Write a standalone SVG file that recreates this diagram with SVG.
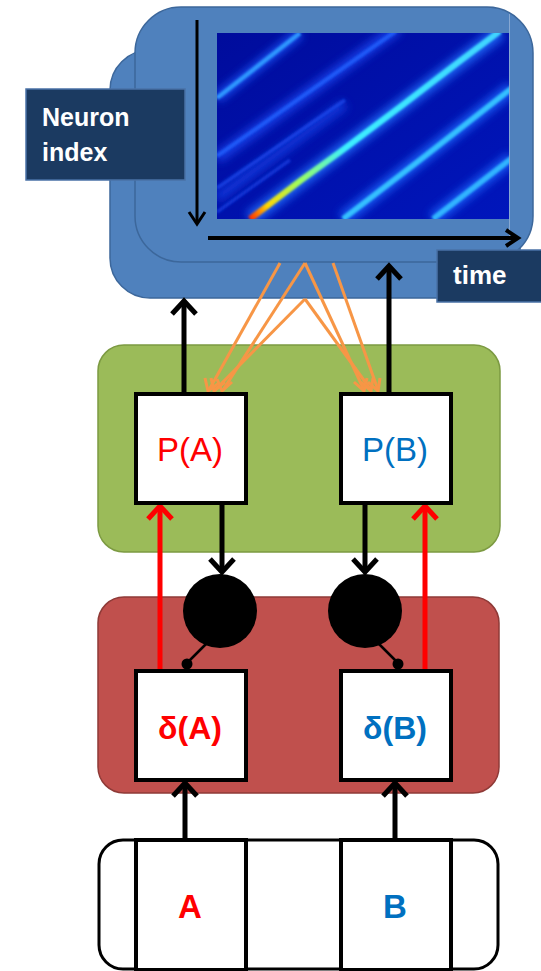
<svg xmlns="http://www.w3.org/2000/svg" width="541" height="971" viewBox="0 0 541 971">
  <style>
    .panel-blue { fill: #4f81bd; stroke: #3c679b; stroke-width: 1.5; }
    .label-box { fill: #1b3a61; stroke: #4a72a6; stroke-width: 1.5; }
    .label-text { font-family: "Liberation Sans", Arial, sans-serif; font-weight: bold; fill: #ffffff; }
    .node { fill: #ffffff; stroke: #000000; stroke-width: 4; }
    .p-text { font-family: "Liberation Sans", Arial, sans-serif; font-size: 33px; text-anchor: middle; }
    .d-text { font-family: "Liberation Sans", Arial, sans-serif; font-size: 32px; font-weight: bold; text-anchor: middle; }
    .in-text { font-family: "Liberation Sans", Arial, sans-serif; font-size: 33px; font-weight: bold; text-anchor: middle; }
    .red { fill: #ff0000; }
    .blue { fill: #0070c0; }
    .blk { stroke: #000000; stroke-width: 5; fill: none; stroke-linecap: butt; }
    .blkhead { stroke: #000000; stroke-width: 5; fill: none; stroke-linejoin: miter; }
    .redl { stroke: #ff0000; stroke-width: 5; fill: none; }
    .redhead { stroke: #ff0000; stroke-width: 5; fill: none; }
    .org { stroke: #f79646; stroke-width: 3; fill: none; }
    .orghead { stroke: #f79646; stroke-width: 3; fill: none; }
  </style>
  <defs>
    <clipPath id="mapClip">
      <rect x="217" y="33" width="292" height="186"/>
    </clipPath>
    <filter id="soft" x="-10%" y="-10%" width="120%" height="120%">
      <feGaussianBlur stdDeviation="1.3"/>
    </filter>
    <filter id="glow" x="-10%" y="-10%" width="120%" height="120%">
      <feGaussianBlur stdDeviation="4"/>
    </filter>
    <linearGradient id="hotStreak" gradientUnits="userSpaceOnUse" x1="250" y1="219" x2="500" y2="32">
      <stop offset="0" stop-color="#ff2a00"/>
      <stop offset="0.07" stop-color="#ffd800"/>
      <stop offset="0.2" stop-color="#9cff60"/>
      <stop offset="0.38" stop-color="#3cf0ff"/>
      <stop offset="1" stop-color="#40d4ff"/>
    </linearGradient>
    <linearGradient id="mapBg" x1="0" y1="0" x2="1" y2="1">
      <stop offset="0" stop-color="#000c9c"/>
      <stop offset="1" stop-color="#0016bc"/>
    </linearGradient>
  </defs>

  <!-- activity panel: stacked cards with raster plot -->
  <g id="activity-panel">
    <rect class="panel-blue" x="110" y="50" width="410" height="248" rx="40"/>
    <rect class="panel-blue" x="135" y="7" width="398" height="255" rx="46"/>
    <g id="raster">
      <rect x="217" y="33" width="292" height="186" fill="url(#mapBg)"/>
      <g clip-path="url(#mapClip)">
        <g filter="url(#glow)" opacity="0.8">
          <path d="M217,98 L300,33" stroke="#1a5cff" stroke-width="10" fill="none"/>
          <path d="M217,158 L398,28" stroke="#1a46f0" stroke-width="12" fill="none"/>
          <path d="M217,198 L345,104" stroke="#1440e4" stroke-width="10" fill="none"/>
          <path d="M250,219 L500,32" stroke="#2070ff" stroke-width="15" fill="none"/>
          <path d="M343,219 L512,88" stroke="#1c66ff" stroke-width="14" fill="none"/>
          <path d="M433,219 L512,158" stroke="#1c66ff" stroke-width="13" fill="none"/>
        </g>
        <g filter="url(#soft)">
          <path d="M217,98 L300,33" stroke="#2f96ff" stroke-width="4.5" fill="none"/>
          <path d="M217,156 L396,31" stroke="#2262ff" stroke-width="4" fill="none" opacity="0.8"/>
          <path d="M217,188 L345,100" stroke="#1c50f4" stroke-width="3.5" fill="none" opacity="0.65"/>
          <path d="M217,212 L290,160" stroke="#1c50f4" stroke-width="3.5" fill="none" opacity="0.55"/>
          <path d="M250,219 L300,181 L340,152 L400,107 L460,61 L500,31" stroke="url(#hotStreak)" stroke-width="6" fill="none"/>
          <path d="M343,219 L420,160 L512,88" stroke="#34c0ff" stroke-width="5.5" fill="none"/>
          <path d="M433,219 L512,158" stroke="#30b4ff" stroke-width="5.5" fill="none"/>
        </g>
      </g>
      <line x1="509.5" y1="14" x2="509.5" y2="240" stroke="#9fb9dc" stroke-width="1" opacity="0.7"/>
    </g>
    <!-- axes -->
    <line x1="197" y1="20" x2="197" y2="222" stroke="#000" stroke-width="3"/>
    <polyline points="189,212 197,224 205,212" stroke="#000" stroke-width="3" fill="none"/>
    <line x1="208" y1="238" x2="518" y2="238" stroke="#000" stroke-width="4"/>
    <polyline points="506,230 518,238 506,246" stroke="#000" stroke-width="4" fill="none"/>
  </g>

  <g id="neuron-index-label">
    <rect class="label-box" x="26" y="89" width="159" height="91"/>
    <text class="label-text" x="42" y="126" font-size="25">Neuron</text>
    <text class="label-text" x="42" y="161" font-size="25">index</text>
  </g>

  <g id="time-label">
    <rect class="label-box" x="437" y="250" width="110" height="52"/>
    <text class="label-text" x="453" y="284" font-size="26">time</text>
  </g>

  <!-- prediction layer -->
  <g id="prediction-layer">
    <rect x="98" y="345" width="402" height="207" rx="26" fill="#9bbb59" stroke="#7c9a42" stroke-width="1.5"/>
  </g>

  <!-- error layer -->
  <g id="error-layer">
    <rect x="98" y="597" width="401" height="196" rx="26" fill="#c0504d" stroke="#8f3a37" stroke-width="1.5"/>
  </g>

  <!-- input strip -->
  <g id="input-strip">
    <rect x="99" y="840" width="399" height="129" rx="24" fill="#ffffff" stroke="#000" stroke-width="3"/>
  </g>

  <!-- connectors -->
  <g id="connectors">
    <!-- P(A) and P(B) up to the activity panel -->
    <line class="blk" x1="184" y1="392" x2="184" y2="302"/>
    <polyline class="blkhead" points="172,314 184,301 196,314"/>
    <line class="blk" x1="389" y1="392" x2="389" y2="267"/>
    <polyline class="blkhead" points="377,279 389,266 401,279"/>

    <!-- feedback from the activity panel -->
    <line class="org" x1="280" y1="263" x2="209" y2="390"/>
    <line class="org" x1="305" y1="263" x2="223" y2="390"/>
    <line class="org" x1="305" y1="299" x2="215" y2="390"/>
    <line class="org" x1="305" y1="263" x2="364" y2="390"/>
    <line class="org" x1="333" y1="263" x2="378" y2="390"/>
    <line class="org" x1="305" y1="299" x2="371" y2="390"/>
    <polyline class="orghead" points="205,378 208,391 219,383"/>
    <polyline class="orghead" points="217,379 222,391 232,382"/>
    <polyline class="orghead" points="211,378 214,391 225,382"/>
    <polyline class="orghead" points="354,382 364,391 367,378"/>
    <polyline class="orghead" points="368,382 378,391 380,378"/>
    <polyline class="orghead" points="361,382 371,391 373,378"/>

    <!-- P down to gating units -->
    <line class="blk" x1="222" y1="503" x2="222" y2="572"/>
    <polyline class="blkhead" points="210,559 222,572 234,559"/>
    <line class="blk" x1="365" y1="503" x2="365" y2="572"/>
    <polyline class="blkhead" points="353,559 365,572 377,559"/>

    <!-- errors up to predictions -->
    <line class="redl" x1="160" y1="670" x2="160" y2="507"/>
    <polyline class="redhead" points="148,519 160,506 172,519"/>
    <line class="redl" x1="425" y1="670" x2="425" y2="507"/>
    <polyline class="redhead" points="413,519 425,506 437,519"/>

    <!-- gating unit to error node -->
    <line x1="206" y1="644" x2="187" y2="663" stroke="#000" stroke-width="2.5"/>
    <circle cx="187" cy="664" r="5.5" fill="#000"/>
    <line x1="379" y1="644" x2="398" y2="663" stroke="#000" stroke-width="2.5"/>
    <circle cx="398" cy="664" r="5.5" fill="#000"/>

    <!-- inputs up to errors -->
    <line class="blk" x1="185" y1="838" x2="185" y2="784"/>
    <polyline class="blkhead" points="173,796 185,783 197,796"/>
    <line class="blk" x1="395" y1="838" x2="395" y2="784"/>
    <polyline class="blkhead" points="383,796 395,783 407,796"/>
  </g>

  <g id="node-pa">
    <rect class="node" x="136" y="394" width="110" height="109"/>
    <text class="p-text red" x="190" y="461">P(A)</text>
  </g>
  <g id="node-pb">
    <rect class="node" x="341" y="394" width="110" height="109"/>
    <text class="p-text blue" x="395" y="461">P(B)</text>
  </g>

  <g id="gate-a">
    <circle cx="220" cy="611" r="37" fill="#000"/>
  </g>
  <g id="gate-b">
    <circle cx="365" cy="611" r="37" fill="#000"/>
  </g>

  <g id="node-da">
    <rect class="node" x="136" y="671" width="110" height="109"/>
    <text class="d-text red" x="190" y="739">δ(A)</text>
  </g>
  <g id="node-db">
    <rect class="node" x="341" y="671" width="110" height="109"/>
    <text class="d-text blue" x="395" y="739">δ(B)</text>
  </g>

  <g id="input-a">
    <rect class="node" x="136" y="840" width="110" height="130"/>
    <text class="in-text red" x="190" y="918">A</text>
  </g>
  <g id="input-b">
    <rect class="node" x="341" y="840" width="110" height="130"/>
    <text class="in-text blue" x="395" y="918">B</text>
  </g>
</svg>
